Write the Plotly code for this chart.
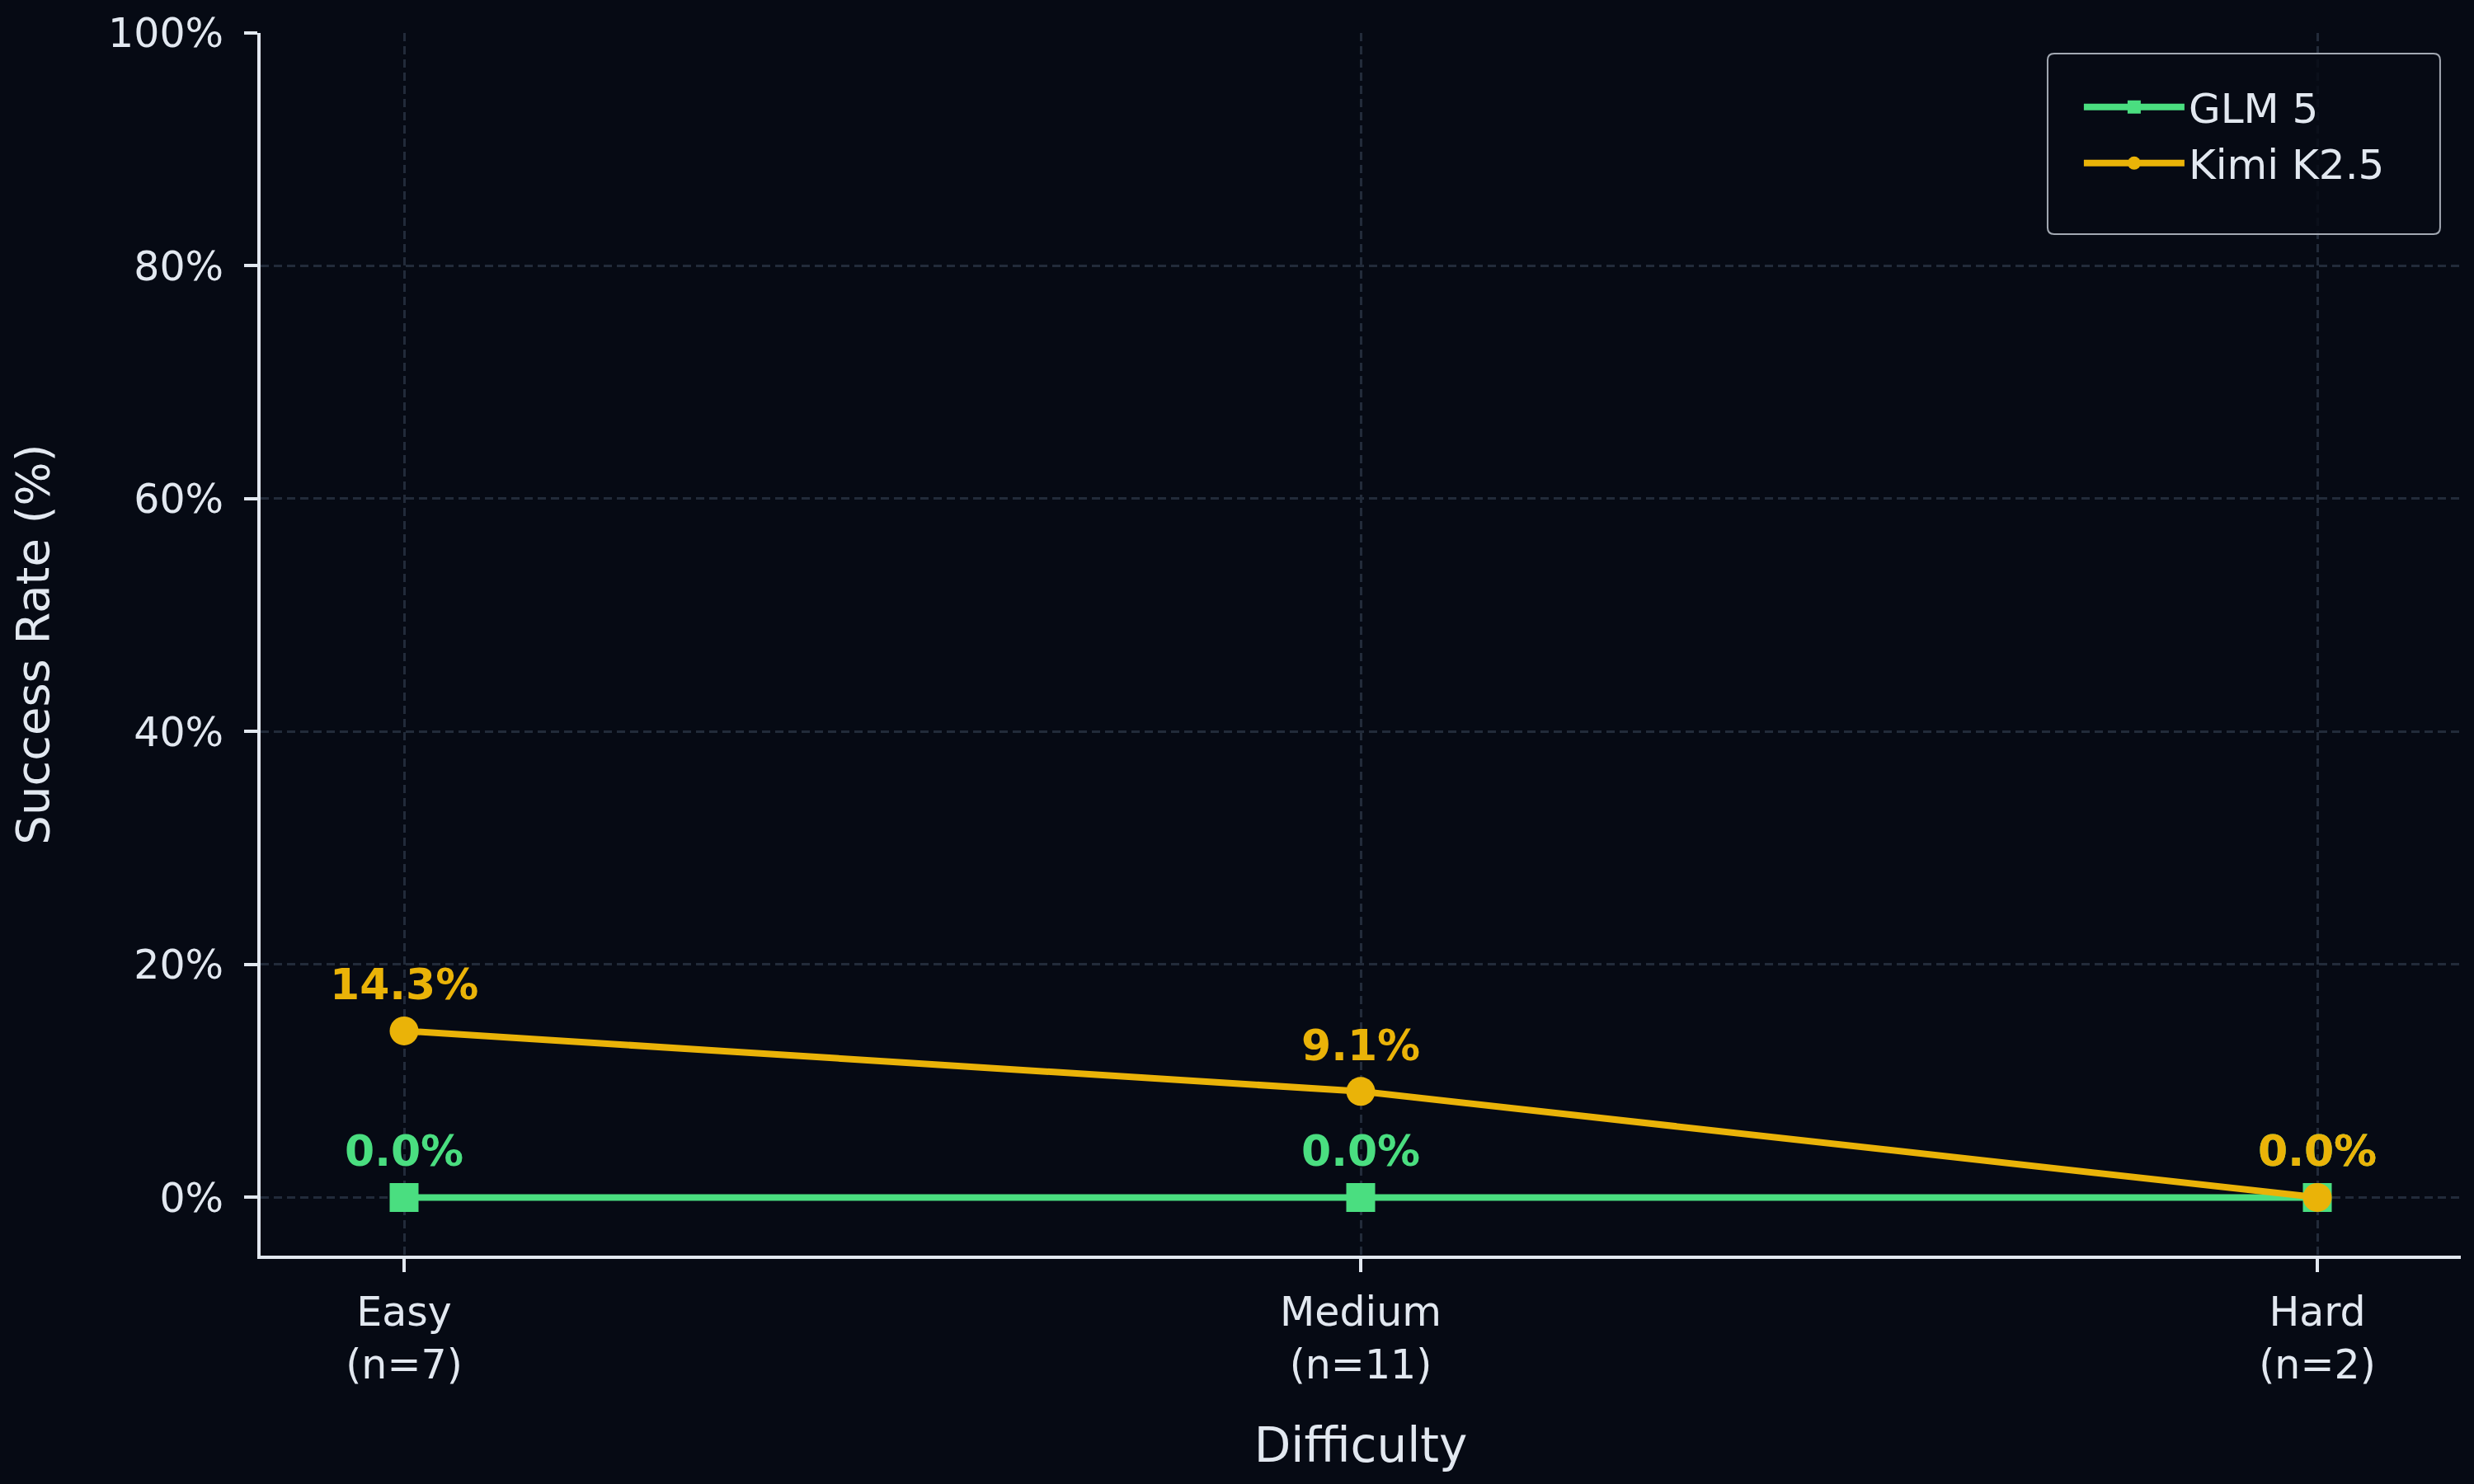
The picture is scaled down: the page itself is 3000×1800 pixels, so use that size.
import plotly.graph_objects as go

# data
difficulty = ['Easy', 'Medium', 'Hard']
n_tasks = [7, 11, 2]
glm5_rate = [0.0, 0.0, 0.0]
kimi_rate = [14.3, 9.1, 0.0]
y_ticks = [0, 20, 40, 60, 80, 100]

BG = '#060a14'
TXT = '#e2e8f0'
GRID = '#222b3a'
GREEN = '#4ade80'
YELLOW = '#eab308'
FONT = 'DejaVu Sans'

tick_text = ['{}<br>(n={})'.format(d, n) for d, n in zip(difficulty, n_tasks)]
y_tick_text = ['{}%'.format(v) for v in y_ticks]

fig = go.Figure()

fig.add_trace(go.Scatter(x=difficulty,
                         y=glm5_rate,
                         mode='lines+markers',
                         name='GLM 5',
                         legendgroup='glm',
                         line=dict(color=GREEN, width=8),
                         marker=dict(symbol='square', size=35, color=GREEN)))

fig.add_trace(go.Scatter(x=difficulty,
                         y=kimi_rate,
                         mode='lines+markers',
                         name='Kimi K2.5',
                         legendgroup='kimi',
                         line=dict(color=YELLOW, width=8),
                         marker=dict(symbol='circle', size=35, color=YELLOW)))

# value labels above each point
for series, colour in ((glm5_rate, GREEN), (kimi_rate, YELLOW)):
    for d, v in zip(difficulty, series):
        fig.add_annotation(x=d,
                           y=v,
                           text='<b>{:.1f}%</b>'.format(v),
                           showarrow=False,
                           yshift=56,
                           font=dict(family=FONT, size=52, color=colour))

# rounded frame around the legend (paper coords)
x0, x1, y0, y1 = 0.8122, 0.9906, 0.8355, 0.9832
rx, ry = 0.003, 0.0054
frame = ('M {a},{y1} L {b},{y1} Q {x1},{y1} {x1},{c} L {x1},{d} Q {x1},{y0} {b},{y0} '
         'L {a},{y0} Q {x0},{y0} {x0},{d} L {x0},{c} Q {x0},{y1} {a},{y1} Z').format(
    a=x0 + rx, b=x1 - rx, c=y1 - ry, d=y0 + ry, x0=x0, x1=x1, y0=y0, y1=y1)
fig.add_shape(type='path',
              path=frame,
              xref='paper',
              yref='paper',
              line=dict(color='#a3a9b3', width=2),
              fillcolor='rgba(6,10,20,0.8)',
              layer='above')

fig.update_layout(width=3000,
                  height=1800,
                  paper_bgcolor=BG,
                  plot_bgcolor=BG,
                  font=dict(family=FONT, size=48, color=TXT),
                  margin=dict(l=316, r=16, t=34, b=277),
                  legend=dict(x=0.8268,
                              y=0.9657,
                              xanchor='left',
                              yanchor='top',
                              bgcolor='rgba(0,0,0,0)',
                              borderwidth=0,
                              font=dict(family=FONT, size=50, color=TXT),
                              itemwidth=122,
                              tracegroupgap=0))

fig.update_xaxes(type='category',
                 categoryorder='array',
                 categoryarray=difficulty,
                 tickvals=difficulty,
                 ticktext=tick_text,
                 range=[-0.15, 2.15],
                 showline=True,
                 linecolor=TXT,
                 linewidth=4,
                 ticks='outside',
                 ticklen=16,
                 tickwidth=4,
                 tickcolor=TXT,
                 ticklabelstandoff=6,
                 tickfont=dict(family=FONT, size=49, color=TXT),
                 showgrid=True,
                 gridcolor=GRID,
                 gridwidth=3,
                 griddash='10px,6px',
                 zeroline=False,
                 title=dict(text='Difficulty',
                            font=dict(family=FONT, size=58, color=TXT),
                            standoff=51))

fig.update_yaxes(range=[-5, 100],
                 tickvals=y_ticks,
                 ticktext=y_tick_text,
                 showline=True,
                 linecolor=TXT,
                 linewidth=4,
                 ticks='outside',
                 ticklen=16,
                 tickwidth=4,
                 tickcolor=TXT,
                 ticklabelstandoff=15,
                 tickfont=dict(family=FONT, size=49, color=TXT),
                 showgrid=True,
                 gridcolor=GRID,
                 gridwidth=3,
                 griddash='10px,6px',
                 zeroline=False,
                 title=dict(text='Success Rate (%)',
                            font=dict(family=FONT, size=56, color=TXT),
                            standoff=55))

fig.write_html('out.html',
               config={'displayModeBar': False},
               post_script="document.body.style.margin='0';")
